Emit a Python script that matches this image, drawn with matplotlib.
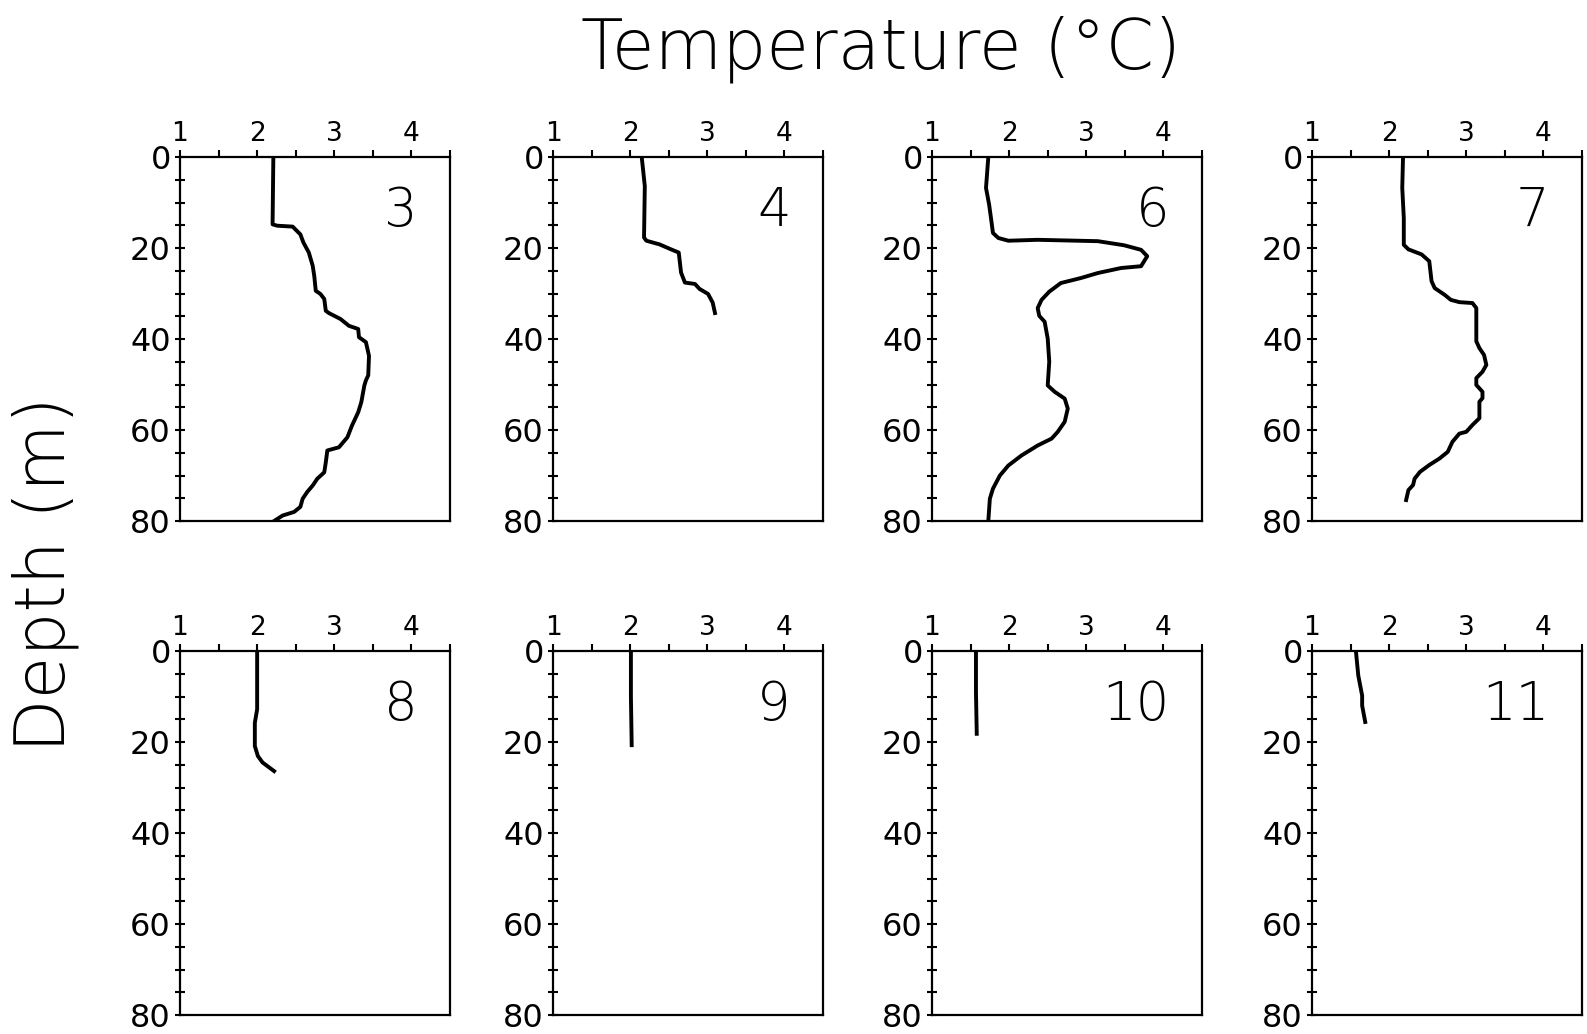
import matplotlib.pyplot as plt
from matplotlib.ticker import MultipleLocator

# Station numbers shown in each panel
stations = ["3", "4", "6", "7", "8", "9", "10", "11"]

# Temperature profiles (deg C) vs depth (m)
d3 = [0, 14.8, 15.1, 15.3, 17, 18.8, 21, 23.9, 26.1, 29.4, 30.1, 31.2, 33.8, 34.3, 35.6,
      37.1, 37.8, 39.6, 40.7, 43.7, 48, 49.1, 50.2, 53.9, 56.1, 59, 61.6, 63.8, 64.5,
      67.1, 69.3, 70.7, 72.2, 73.6, 75.1, 76.9, 78, 78.8, 80]
t3 = [2.21, 2.20, 2.26, 2.46, 2.56, 2.60, 2.67, 2.72, 2.74, 2.76, 2.82, 2.87, 2.89, 2.93, 3.08,
      3.19, 3.31, 3.32, 3.41, 3.45, 3.44, 3.41, 3.39, 3.35, 3.31, 3.23, 3.17, 3.06, 2.91,
      2.89, 2.87, 2.78, 2.72, 2.65, 2.59, 2.56, 2.48, 2.33, 2.22]

d4 = [0, 6.4, 17.7, 18.4, 19.2, 20.3, 21, 25.4, 27.6, 27.9, 29, 30.1, 32, 34.3]
t4 = [2.15, 2.19, 2.18, 2.21, 2.38, 2.53, 2.63, 2.66, 2.71, 2.84, 2.90, 3.01, 3.07, 3.10]

d6 = [0, 6.8, 10.4, 14.1, 16.7, 17.8, 18.4, 18.2, 18.5, 19.4, 20.4, 21.8, 24, 24.4, 25.5,
      26.6, 27.7, 29.6, 31.4, 33.2, 34.9, 36.2, 39.9, 45, 50.2, 51.6, 53.1, 55.3, 58.2,
      60.4, 61.9, 63.4, 65.6, 67.8, 70, 72.9, 75.1, 80]
t6 = [1.73, 1.70, 1.74, 1.77, 1.79, 1.86, 1.99, 2.37, 3.15, 3.49, 3.71, 3.79, 3.71, 3.45, 3.15,
      2.93, 2.67, 2.52, 2.42, 2.37, 2.39, 2.46, 2.50, 2.52, 2.50, 2.59, 2.72, 2.76, 2.72,
      2.63, 2.55, 2.37, 2.16, 1.99, 1.88, 1.79, 1.75, 1.73]

d7 = [0, 6.8, 13.4, 19.3, 20.3, 21.4, 22.9, 27.3, 28.8, 30.3, 31.4, 31.9, 32.1, 33.2, 36.9,
      40.5, 42, 43.5, 45.7, 47.2, 48.6, 50.1, 51.6, 53, 53.8, 57.4, 58.9, 60.4, 60.8,
      62.6, 64.8, 66.3, 67.7, 69.2, 70.7, 72.1, 73.2, 75.4]
t7 = [2.18, 2.17, 2.19, 2.19, 2.25, 2.42, 2.52, 2.55, 2.59, 2.72, 2.80, 2.91, 3.08, 3.13, 3.13,
      3.13, 3.17, 3.23, 3.26, 3.21, 3.13, 3.13, 3.21, 3.21, 3.17, 3.17, 3.08, 3.00, 2.91,
      2.82, 2.76, 2.65, 2.52, 2.40, 2.33, 2.31, 2.25, 2.22]

d8 = [0, 7, 12.8, 15.8, 20.9, 23.1, 24.5, 26.4]
t8 = [2.00, 2.00, 2.00, 1.97, 1.97, 2.01, 2.07, 2.22]

d9 = [0, 10, 20.7]
t9 = [2.01, 2.01, 2.02]

d10 = [0, 9, 18.2]
t10 = [1.57, 1.57, 1.58]

d11 = [0.2, 5.4, 9.8, 12, 15.6]
t11 = [1.57, 1.60, 1.65, 1.65, 1.69]

temps = [t3, t4, t6, t7, t8, t9, t10, t11]
depths = [d3, d4, d6, d7, d8, d9, d10, d11]

W, H = 1587, 1034
fig = plt.figure(figsize=(W / 100, H / 100), dpi=100)

col_left = [180, 553, 932, 1312]
row_top = [157, 651]
ax_w, ax_h = 270, 364

for i in range(8):
    r, c = divmod(i, 4)
    left = col_left[c] / W
    bottom = 1 - (row_top[r] + ax_h) / H
    ax = fig.add_axes([left, bottom, ax_w / W, ax_h / H])

    ax.plot(temps[i], depths[i], color="black", lw=2.8, solid_joinstyle="round")

    ax.set_xlim(1, 4.5)
    ax.set_ylim(80, 0)
    ax.xaxis.tick_top()
    ax.set_xticks([1, 2, 3, 4])
    ax.xaxis.set_minor_locator(MultipleLocator(0.5))
    ax.set_yticks([0, 20, 40, 60, 80])
    ax.yaxis.set_minor_locator(MultipleLocator(5))
    ax.tick_params(axis="x", which="both", direction="out", length=5, width=1.5,
                   labelsize=19, pad=2)
    ax.tick_params(axis="y", which="both", direction="inout", length=7, width=1.5,
                   labelsize=23, pad=3)
    for s in ax.spines.values():
        s.set_linewidth(1.6)

    ax.text(4.08, 12, stations[i], ha="right", va="center", fontsize=38,
            fontweight="light")

fig.text(881 / W, 1 - 49 / H, "Temperature (°C)", ha="center", va="center",
         fontsize=50, fontweight="light")
fig.text(45 / W, 1 - 574 / H, "Depth (m)", ha="center", va="center",
         fontsize=50, fontweight="light", rotation=90)

plt.savefig("out.png", dpi=100)
